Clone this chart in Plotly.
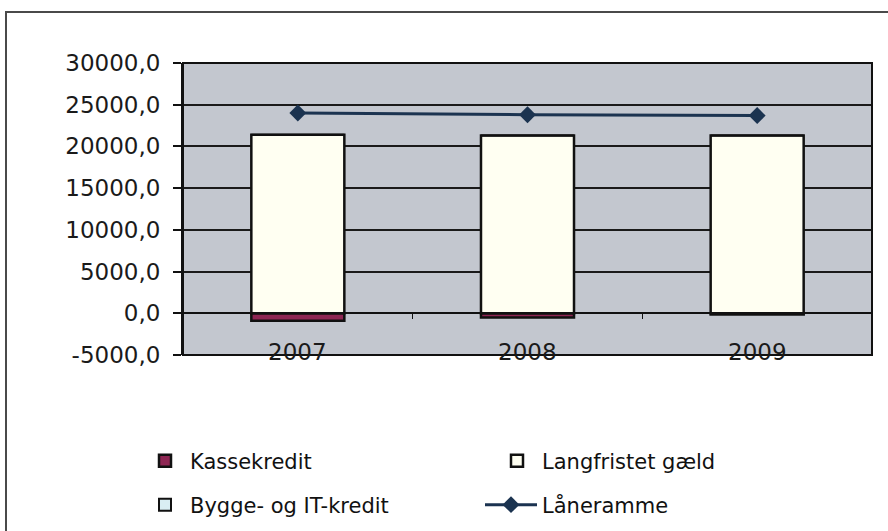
import plotly.graph_objects as go

# ---- data ----
years = ["2007", "2008", "2009"]
kassekredit = [-900, -500, -150]
langfristet_gaeld = [21400, 21300, 21300]
bygge_it_kredit = [0, 0, 0]
laaneramme = [24000, 23800, 23700]
y_tick_vals = [-5000, 0, 5000, 10000, 15000, 20000, 25000, 30000]
y_tick_text = ["-5000,0", "0,0", "5000,0", "10000,0", "15000,0", "20000,0", "25000,0", "30000,0"]

# ---- layout geometry (pixels) ----
W, H = 888, 531
L, R, T, B = 183, 872, 63, 355
pw, ph = R - L, B - T

FONT = "DejaVu Sans"
BG = "#c3c7cf"

fig = go.Figure()
fig.add_trace(go.Bar(
    x=years, y=kassekredit, name="Kassekredit",
    marker=dict(color="#8e2653", line=dict(color="#111111", width=2.5)),
    width=0.405, legend="legend",
))
fig.add_trace(go.Bar(
    x=years, y=langfristet_gaeld, name="Langfristet gæld",
    marker=dict(color="#fffff2", line=dict(color="#111111", width=2.5)),
    width=0.405, legend="legend2",
))
fig.add_trace(go.Bar(
    x=years, y=bygge_it_kredit, name="Bygge- og IT-kredit",
    marker=dict(color="#d9eef3", line=dict(color="#111111", width=2)),
    width=0.405, legend="legend3",
))
fig.add_trace(go.Scatter(
    x=years, y=laaneramme, name="Låneramme", mode="lines+markers",
    line=dict(color="#1b3350", width=3),
    marker=dict(symbol="diamond", size=13, color="#1b3350"),
    legend="legend4",
))

# category labels placed at the bottom of the plot area
for i, yr in enumerate(years):
    fig.add_annotation(x=i, y=y_tick_vals[0], xref="x", yref="y", text=yr,
                       showarrow=False, yanchor="middle", yshift=3,
                       font=dict(family=FONT, size=23, color="#1a1a1a"))

ymin, ymax = y_tick_vals[0], y_tick_vals[-1]
zero_pos = (0 - ymin) / (ymax - ymin)

# plot-area border
fig.add_shape(type="rect", xref="paper", yref="paper", x0=0, x1=1, y0=0, y1=1,
              line=dict(color="#111111", width=2), layer="above")
# outer chart frame (left and top edges visible)
fx0 = (6 - L) / pw
fy1 = 1 + (T - 12) / ph
fig.add_shape(type="path", xref="paper", yref="paper",
              path=f"M {fx0} -1 L {fx0} {fy1} L 1.1 {fy1}",
              line=dict(color="#4a4a4a", width=2))

legend_common = dict(
    orientation="h", xref="container", yref="container",
    xanchor="left", yanchor="middle",
    font=dict(family=FONT, size=21, color="#111111"),
    bgcolor="rgba(0,0,0,0)", itemwidth=40,
)

fig.update_layout(
    width=W, height=H,
    margin=dict(l=L, r=W - R, t=T, b=H - B, pad=0),
    paper_bgcolor="white", plot_bgcolor=BG,
    barmode="relative",
    showlegend=True,
    legend=dict(legend_common, x=140 / W, y=1 - 461 / H),
    legend2=dict(legend_common, x=492 / W, y=1 - 461 / H),
    legend3=dict(legend_common, x=140 / W, y=1 - 505 / H),
    legend4=dict(legend_common, x=480 / W, y=1 - 505 / H, itemwidth=52),
    xaxis=dict(
        type="category", range=[-0.5, len(years) - 0.5], autorange=False,
        anchor="free", position=zero_pos,
        showticklabels=False, showline=True, linecolor="#111111", linewidth=2,
        ticks="outside", ticklen=5, tickcolor="#111111", tickson="boundaries",
        showgrid=False, fixedrange=True,
    ),
    yaxis=dict(
        range=[ymin, ymax], autorange=False, tickvals=y_tick_vals, ticktext=y_tick_text,
        showline=True, linecolor="#111111", linewidth=2,
        ticks="outside", ticklen=8, tickcolor="#111111", tickwidth=1.5,
        ticklabelstandoff=8,
        showgrid=True, gridcolor="#1a1a1a", gridwidth=1.5,
        zeroline=False,
        tickfont=dict(family=FONT, size=23, color="#1a1a1a"),
    ),
)

fig.write_html("out.html", config={"displayModeBar": False},
               post_script="document.body.style.margin='0';document.body.style.overflow='hidden';")
